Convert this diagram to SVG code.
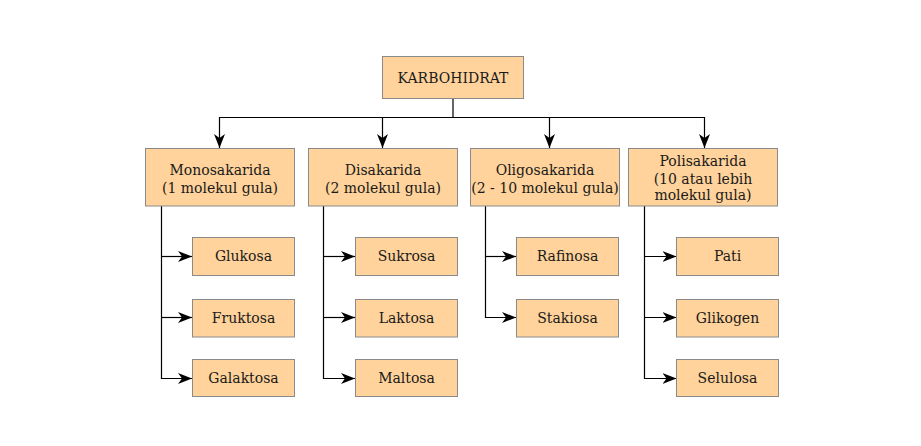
<svg xmlns="http://www.w3.org/2000/svg" width="921" height="446" viewBox="0 0 921 446">
<style>
.box{fill:#FFD39B;stroke:#8a8a8a;stroke-width:1}
.t{font-family:"DejaVu Serif",serif;font-size:14px;fill:#1a1a1a;text-anchor:middle}
.c{fill:none;stroke:#000;stroke-width:1.2}
</style>
<defs>
<marker id="arr" viewBox="0 0 14 11" refX="14" refY="5.5" markerWidth="14" markerHeight="11" markerUnits="userSpaceOnUse" orient="auto">
<path d="M0,0 L14,5.5 L0,11 L4,5.5 Z" fill="#000"/>
</marker>
</defs>
<rect width="921" height="446" fill="#fff"/>
<g id="connectors">
<path class="c" d="M453,98.5 V117.5 H219.5 V148" marker-end="url(#arr)"/>
<path class="c" d="M382.5,117.5 V148" marker-end="url(#arr)"/>
<path class="c" d="M453,117.5 H549.5 V148" marker-end="url(#arr)"/>
<path class="c" d="M549.5,117.5 H704.5 V148" marker-end="url(#arr)"/>
<path class="c" d="M161.5,206 V378.5 H192" marker-end="url(#arr)"/>
<path class="c" d="M161.5,256.5 H192" marker-end="url(#arr)"/>
<path class="c" d="M161.5,317.5 H192" marker-end="url(#arr)"/>
<path class="c" d="M323.5,206 V378.5 H355" marker-end="url(#arr)"/>
<path class="c" d="M323.5,256.5 H355" marker-end="url(#arr)"/>
<path class="c" d="M323.5,317.5 H355" marker-end="url(#arr)"/>
<path class="c" d="M485.5,206 V317.5 H516" marker-end="url(#arr)"/>
<path class="c" d="M485.5,256.5 H516" marker-end="url(#arr)"/>
<path class="c" d="M644.5,206 V378.5 H676.5" marker-end="url(#arr)"/>
<path class="c" d="M644.5,256.5 H676.5" marker-end="url(#arr)"/>
<path class="c" d="M644.5,317.5 H676.5" marker-end="url(#arr)"/>
</g>
<g id="karbohidrat"><rect class="box" x="382.5" y="56.5" width="141" height="42"/><text class="t" x="453" y="82.5">KARBOHIDRAT</text></g>
<g id="monosakarida"><rect class="box" x="145.5" y="148.5" width="149" height="57.5"/><text class="t" x="220" y="175">Monosakarida</text><text class="t" x="220" y="192.5">(1 molekul gula)</text></g>
<g id="disakarida"><rect class="box" x="308.5" y="148.5" width="149" height="57.5"/><text class="t" x="383" y="175">Disakarida</text><text class="t" x="383" y="192.5">(2 molekul gula)</text></g>
<g id="oligosakarida"><rect class="box" x="470.5" y="148.5" width="149" height="57.5"/><text class="t" x="545" y="175">Oligosakarida</text><text class="t" x="545" y="192.5">(2 - 10 molekul gula)</text></g>
<g id="polisakarida"><rect class="box" x="628.5" y="148.5" width="149" height="57.5"/><text class="t" x="703" y="166">Polisakarida</text><text class="t" x="703" y="183.5">(10 atau lebih</text><text class="t" x="703" y="200">molekul gula)</text></g>
<g id="glukosa"><rect class="box" x="192.5" y="237.5" width="102" height="38"/><text class="t" x="243.5" y="261">Glukosa</text></g>
<g id="fruktosa"><rect class="box" x="192.5" y="299.5" width="102" height="37.5"/><text class="t" x="243.5" y="322.5">Fruktosa</text></g>
<g id="galaktosa"><rect class="box" x="192.5" y="359.5" width="102" height="37"/><text class="t" x="243.5" y="383">Galaktosa</text></g>
<g id="sukrosa"><rect class="box" x="355.5" y="237.5" width="102" height="38"/><text class="t" x="406.5" y="261">Sukrosa</text></g>
<g id="laktosa"><rect class="box" x="355.5" y="299.5" width="102" height="37.5"/><text class="t" x="406.5" y="322.5">Laktosa</text></g>
<g id="maltosa"><rect class="box" x="355.5" y="359.5" width="102" height="37"/><text class="t" x="406.5" y="383">Maltosa</text></g>
<g id="rafinosa"><rect class="box" x="516.5" y="237.5" width="102" height="38"/><text class="t" x="567.5" y="261">Rafinosa</text></g>
<g id="stakiosa"><rect class="box" x="516.5" y="299.5" width="102" height="37.5"/><text class="t" x="567.5" y="322.5">Stakiosa</text></g>
<g id="pati"><rect class="box" x="676.5" y="237.5" width="102" height="38"/><text class="t" x="727.5" y="261">Pati</text></g>
<g id="glikogen"><rect class="box" x="676.5" y="299.5" width="102" height="37.5"/><text class="t" x="727.5" y="322.5">Glikogen</text></g>
<g id="selulosa"><rect class="box" x="676.5" y="359.5" width="102" height="37"/><text class="t" x="727.5" y="383">Selulosa</text></g>
</svg>
